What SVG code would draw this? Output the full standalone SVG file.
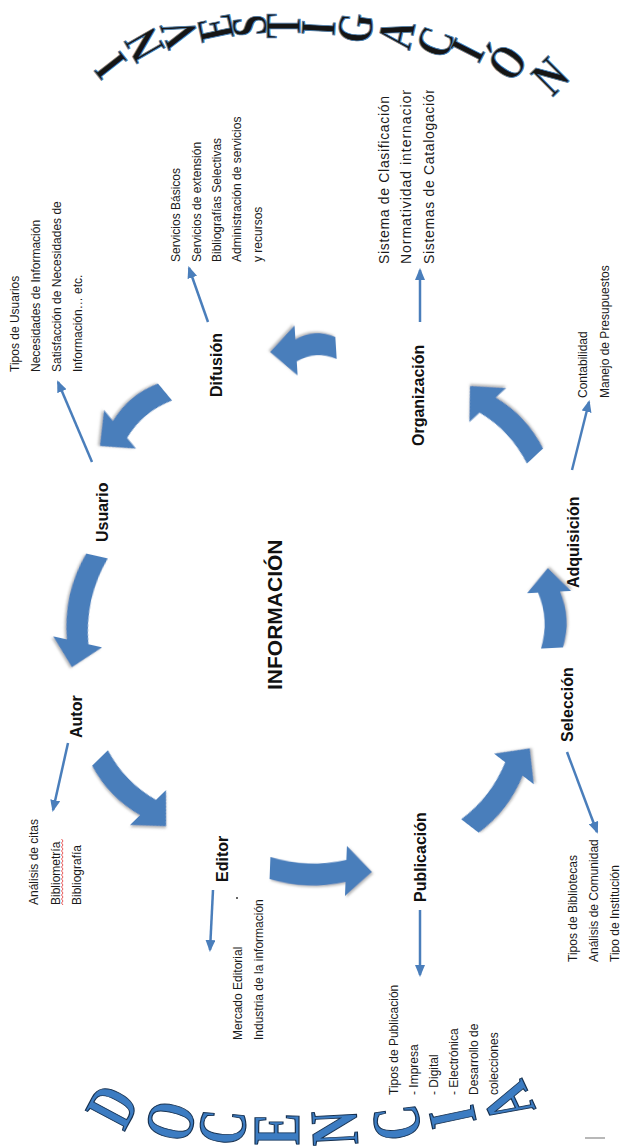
<svg xmlns="http://www.w3.org/2000/svg" width="620" height="1147" viewBox="0 0 620 1147">
<style>
.lbl{font-family:"Liberation Sans",Arial,sans-serif;font-weight:bold;font-size:16px;fill:#111}
.txt{font-family:"Liberation Sans",Arial,sans-serif;font-size:12px;fill:#1a1a1a}
.t14{font-size:14px}
.big{font-size:21px}
.conn{stroke:#4a7ebb;stroke-width:2.5;fill:none;marker-end:url(#ah)}
.blk{fill:#4a7ebb;filter:url(#sh)}
.inv{font-family:"Liberation Serif","Times New Roman",serif;font-weight:bold;font-size:50px;fill:#151515;stroke:#4f7ea8;stroke-width:1;text-anchor:middle}
.doc{font-family:"Liberation Serif","Times New Roman",serif;font-weight:bold;font-size:68px;fill:#3c7cc2;stroke:#16304f;stroke-width:1.2;text-anchor:middle}
</style>
<defs>
<marker id="ah" markerUnits="userSpaceOnUse" markerWidth="12" markerHeight="10" refX="10" refY="5" orient="auto">
<path d="M0,0 L12,5 L0,10 Z" fill="#4a7ebb"/>
</marker>
<filter id="sh" x="-20%" y="-20%" width="140%" height="140%">
<feDropShadow dx="1.5" dy="1.5" stdDeviation="1.2" flood-color="#8a8a8a" flood-opacity="0.6"/>
</filter>
<clipPath id="cl3"><rect x="360" y="90" width="100" height="200"/></clipPath>
</defs>

<g id="investigacion">
<text class="inv" transform="translate(110,66) rotate(-128) scale(0.75,1)" dy="0.34em">I</text>
<text class="inv" transform="translate(144,45) rotate(-120) scale(0.75,1)" dy="0.34em">N</text>
<text class="inv" transform="translate(179,33) rotate(-110) scale(0.75,1)" dy="0.34em">V</text>
<text class="inv" transform="translate(215,28) rotate(-102) scale(0.75,1)" dy="0.34em">E</text>
<text class="inv" transform="translate(249,26) rotate(-96) scale(0.75,1)" dy="0.34em">S</text>
<text class="inv" transform="translate(283,26) rotate(-90) scale(0.75,1)" dy="0.34em">T</text>
<text class="inv" transform="translate(318,28) rotate(-87) scale(0.75,1)" dy="0.34em">I</text>
<text class="inv" transform="translate(355,28) rotate(-83) scale(0.75,1)" dy="0.34em">G</text>
<text class="inv" transform="translate(396,34) rotate(-77) scale(0.75,1)" dy="0.34em">A</text>
<text class="inv" transform="translate(435,42) rotate(-70) scale(0.75,1)" dy="0.34em">C</text>
<text class="inv" transform="translate(467,50) rotate(-63) scale(0.75,1)" dy="0.34em">I</text>
<text class="inv" transform="translate(507,62) rotate(-55) scale(0.75,1)" dy="0.34em">Ó</text>
<text class="inv" transform="translate(550,76) rotate(-45) scale(0.75,1)" dy="0.34em">N</text>
</g>

<g id="docencia">
<text class="doc" transform="translate(112,1106) rotate(-62) scale(0.7,1)" dy="0.34em">D</text>
<text class="doc" transform="translate(170,1121) rotate(-76) scale(0.7,1)" dy="0.34em">O</text>
<text class="doc" transform="translate(222,1127) rotate(-85) scale(0.7,1)" dy="0.34em">C</text>
<text class="doc" transform="translate(276,1129) rotate(-90) scale(0.7,1)" dy="0.34em">E</text>
<text class="doc" transform="translate(334,1128) rotate(-93) scale(0.7,1)" dy="0.34em">N</text>
<text class="doc" transform="translate(396,1123) rotate(-98) scale(0.7,1)" dy="0.34em">C</text>
<text class="doc" transform="translate(452,1117) rotate(-102) scale(0.7,1)" dy="0.34em">I</text>
<text class="doc" transform="translate(508,1103) rotate(-115) scale(0.7,1)" dy="0.34em">A</text>
<line x1="585" y1="1138" x2="605" y2="1138" stroke="#a0a0a0" stroke-width="1.5"/>
</g>

<g id="informacion">
<text class="lbl big" transform="translate(282,690) rotate(-90)">INFORMACIÓN</text>
</g>

<g id="usuario">
<text class="lbl" transform="translate(108,542) rotate(-90)">Usuario</text>
<text class="txt" transform="translate(19,372) rotate(-90)">Tipos de Usuarios</text>
<text class="txt" transform="translate(40,372) rotate(-90)">Necesidades de Información</text>
<text class="txt" transform="translate(61,372) rotate(-90)">Satisfacción de Necesidades de</text>
<text class="txt" transform="translate(82,372) rotate(-90)">Información… etc.</text>
</g>

<g id="difusion">
<text class="lbl" transform="translate(222,397) rotate(-90)">Difusión</text>
<text class="txt" transform="translate(180,262) rotate(-90)">Servicios Básicos</text>
<text class="txt" transform="translate(201,262) rotate(-90)">Servicios de extensión</text>
<text class="txt" transform="translate(221,262) rotate(-90)">Bibliografías Selectivas</text>
<text class="txt" transform="translate(241,262) rotate(-90)">Administración de servicios</text>
<text class="txt" transform="translate(262,262) rotate(-90)">y recursos</text>
</g>

<g id="organizacion">
<text class="lbl" transform="translate(424,446) rotate(-90)">Organización</text>
<g clip-path="url(#cl3)">
<text class="txt t14" transform="translate(389,264) rotate(-90)" textLength="168" lengthAdjust="spacing">Sistema de Clasificación</text>
<text class="txt t14" transform="translate(411,264) rotate(-90)" textLength="190" lengthAdjust="spacing">Normatividad internacional</text>
<text class="txt t14" transform="translate(434,264) rotate(-90)" textLength="178" lengthAdjust="spacing">Sistemas de Catalogación</text>
</g>
</g>

<g id="adquisicion">
<text class="lbl" transform="translate(579,588) rotate(-90)">Adquisición</text>
<text class="txt" transform="translate(587,398) rotate(-90)">Contabilidad</text>
<text class="txt" transform="translate(609,398) rotate(-90)">Manejo de Presupuestos</text>
</g>

<g id="seleccion">
<text class="lbl" transform="translate(573,742) rotate(-90)">Selección</text>
<text class="txt" transform="translate(577,962) rotate(-90)">Tipos de Bibliotecas</text>
<text class="txt" transform="translate(598,962) rotate(-90)">Análisis de Comunidad</text>
<text class="txt" transform="translate(619,962) rotate(-90)">Tipo de Institución</text>
</g>

<g id="publicacion">
<text class="lbl" transform="translate(426,902) rotate(-90)">Publicación</text>
<text class="txt" transform="translate(398,1095) rotate(-90)">Tipos de Publicación</text>
<text class="txt" transform="translate(418,1095) rotate(-90)">- Impresa</text>
<text class="txt" transform="translate(438,1095) rotate(-90)">- Digital</text>
<text class="txt" transform="translate(458,1095) rotate(-90)">- Electrónica</text>
<text class="txt" transform="translate(478,1095) rotate(-90)">Desarrollo de</text>
<text class="txt" transform="translate(498,1095) rotate(-90)">colecciones</text>
</g>

<g id="editor">
<text class="lbl" transform="translate(228,882) rotate(-90)">Editor</text>
<text class="txt" transform="translate(242,1040) rotate(-90)">Mercado Editorial</text>
<text class="txt" transform="translate(263,1040) rotate(-90)">Industria de la información</text>
<circle cx="237" cy="898" r="1" fill="#333"/>
</g>

<g id="autor">
<text class="lbl" transform="translate(82,738) rotate(-90)">Autor</text>
<text class="txt" transform="translate(38,905) rotate(-90)">Análisis de citas</text>
<text class="txt" transform="translate(60,905) rotate(-90)">Bibliometría</text>
<text class="txt" transform="translate(81,905) rotate(-90)">Bibliografía</text>
<polyline points="63,905 61.5,903 63,901 61.5,899 63,897 61.5,895 63,893 61.5,891 63,889 61.5,887 63,885 61.5,883 63,881 61.5,879 63,877 61.5,875 63,873 61.5,871 63,869 61.5,867 63,865 61.5,863 63,861 61.5,859 63,857 61.5,855 63,853 61.5,851 63,849 61.5,847 63,845 61.5,843 63,841 61.5,839" fill="none" stroke="#e03030" stroke-width="0.8"/>
</g>

<g id="connectors">
<line class="conn" x1="92" y1="462" x2="58" y2="382"/>
<line class="conn" x1="208" y1="322" x2="189" y2="268"/>
<line class="conn" x1="420" y1="322" x2="420" y2="270"/>
<line class="conn" x1="572" y1="470" x2="589" y2="402"/>
<line class="conn" x1="567" y1="752" x2="597" y2="832"/>
<line class="conn" x1="420" y1="910" x2="420" y2="975"/>
<line class="conn" x1="213" y1="890" x2="210" y2="950"/>
<line class="conn" x1="68" y1="743" x2="53" y2="810"/>
<path class="blk" transform="translate(165,392) rotate(140.3)" d="M0,-11 Q29,-1 58.5,-11 L58.5,-25 L84.5,0 L58.5,25 L58.5,11 Q29,21 0,11 Z"/>
<path class="blk" transform="translate(336,348) rotate(176.5)" d="M0,-11 Q20,-1 40,-11 L40,-25 L66,0 L40,25 L40,11 Q20,21 0,11 Z"/>
<path class="blk" transform="translate(535,456) rotate(-132.9)" d="M0,-11 Q35,-1 69.5,-11 L69.5,-25 L95.5,0 L69.5,25 L69.5,11 Q35,21 0,11 Z"/>
<path class="blk" transform="translate(552,648) rotate(-93)" d="M0,-11 Q28,-1 56,-11 L56,-22 L80,0 L56,22 L56,11 Q28,21 0,11 Z"/>
<path class="blk" transform="translate(470,826) rotate(-52.4)" d="M0,-11 Q36,-1 72,-11 L72,-25 L98,0 L72,25 L72,11 Q36,21 0,11 Z"/>
<path class="blk" transform="translate(270,868) rotate(2.2)" d="M0,-11 Q38,-1 76,-11 L76,-25 L102,0 L76,25 L76,11 Q38,21 0,11 Z"/>
<path class="blk" transform="translate(100,758) rotate(45.9)" d="M0,-11 Q34.5,-1 69,-11 L69,-25 L95,0 L69,25 L69,11 Q34.5,21 0,11 Z"/>
<path class="blk" transform="translate(97,556) rotate(102.7)" d="M0,-11 Q44,3 88,-11 L88,-25 L114,0 L88,25 L88,11 Q44,25 0,11 Z"/>
</g>
</svg>
